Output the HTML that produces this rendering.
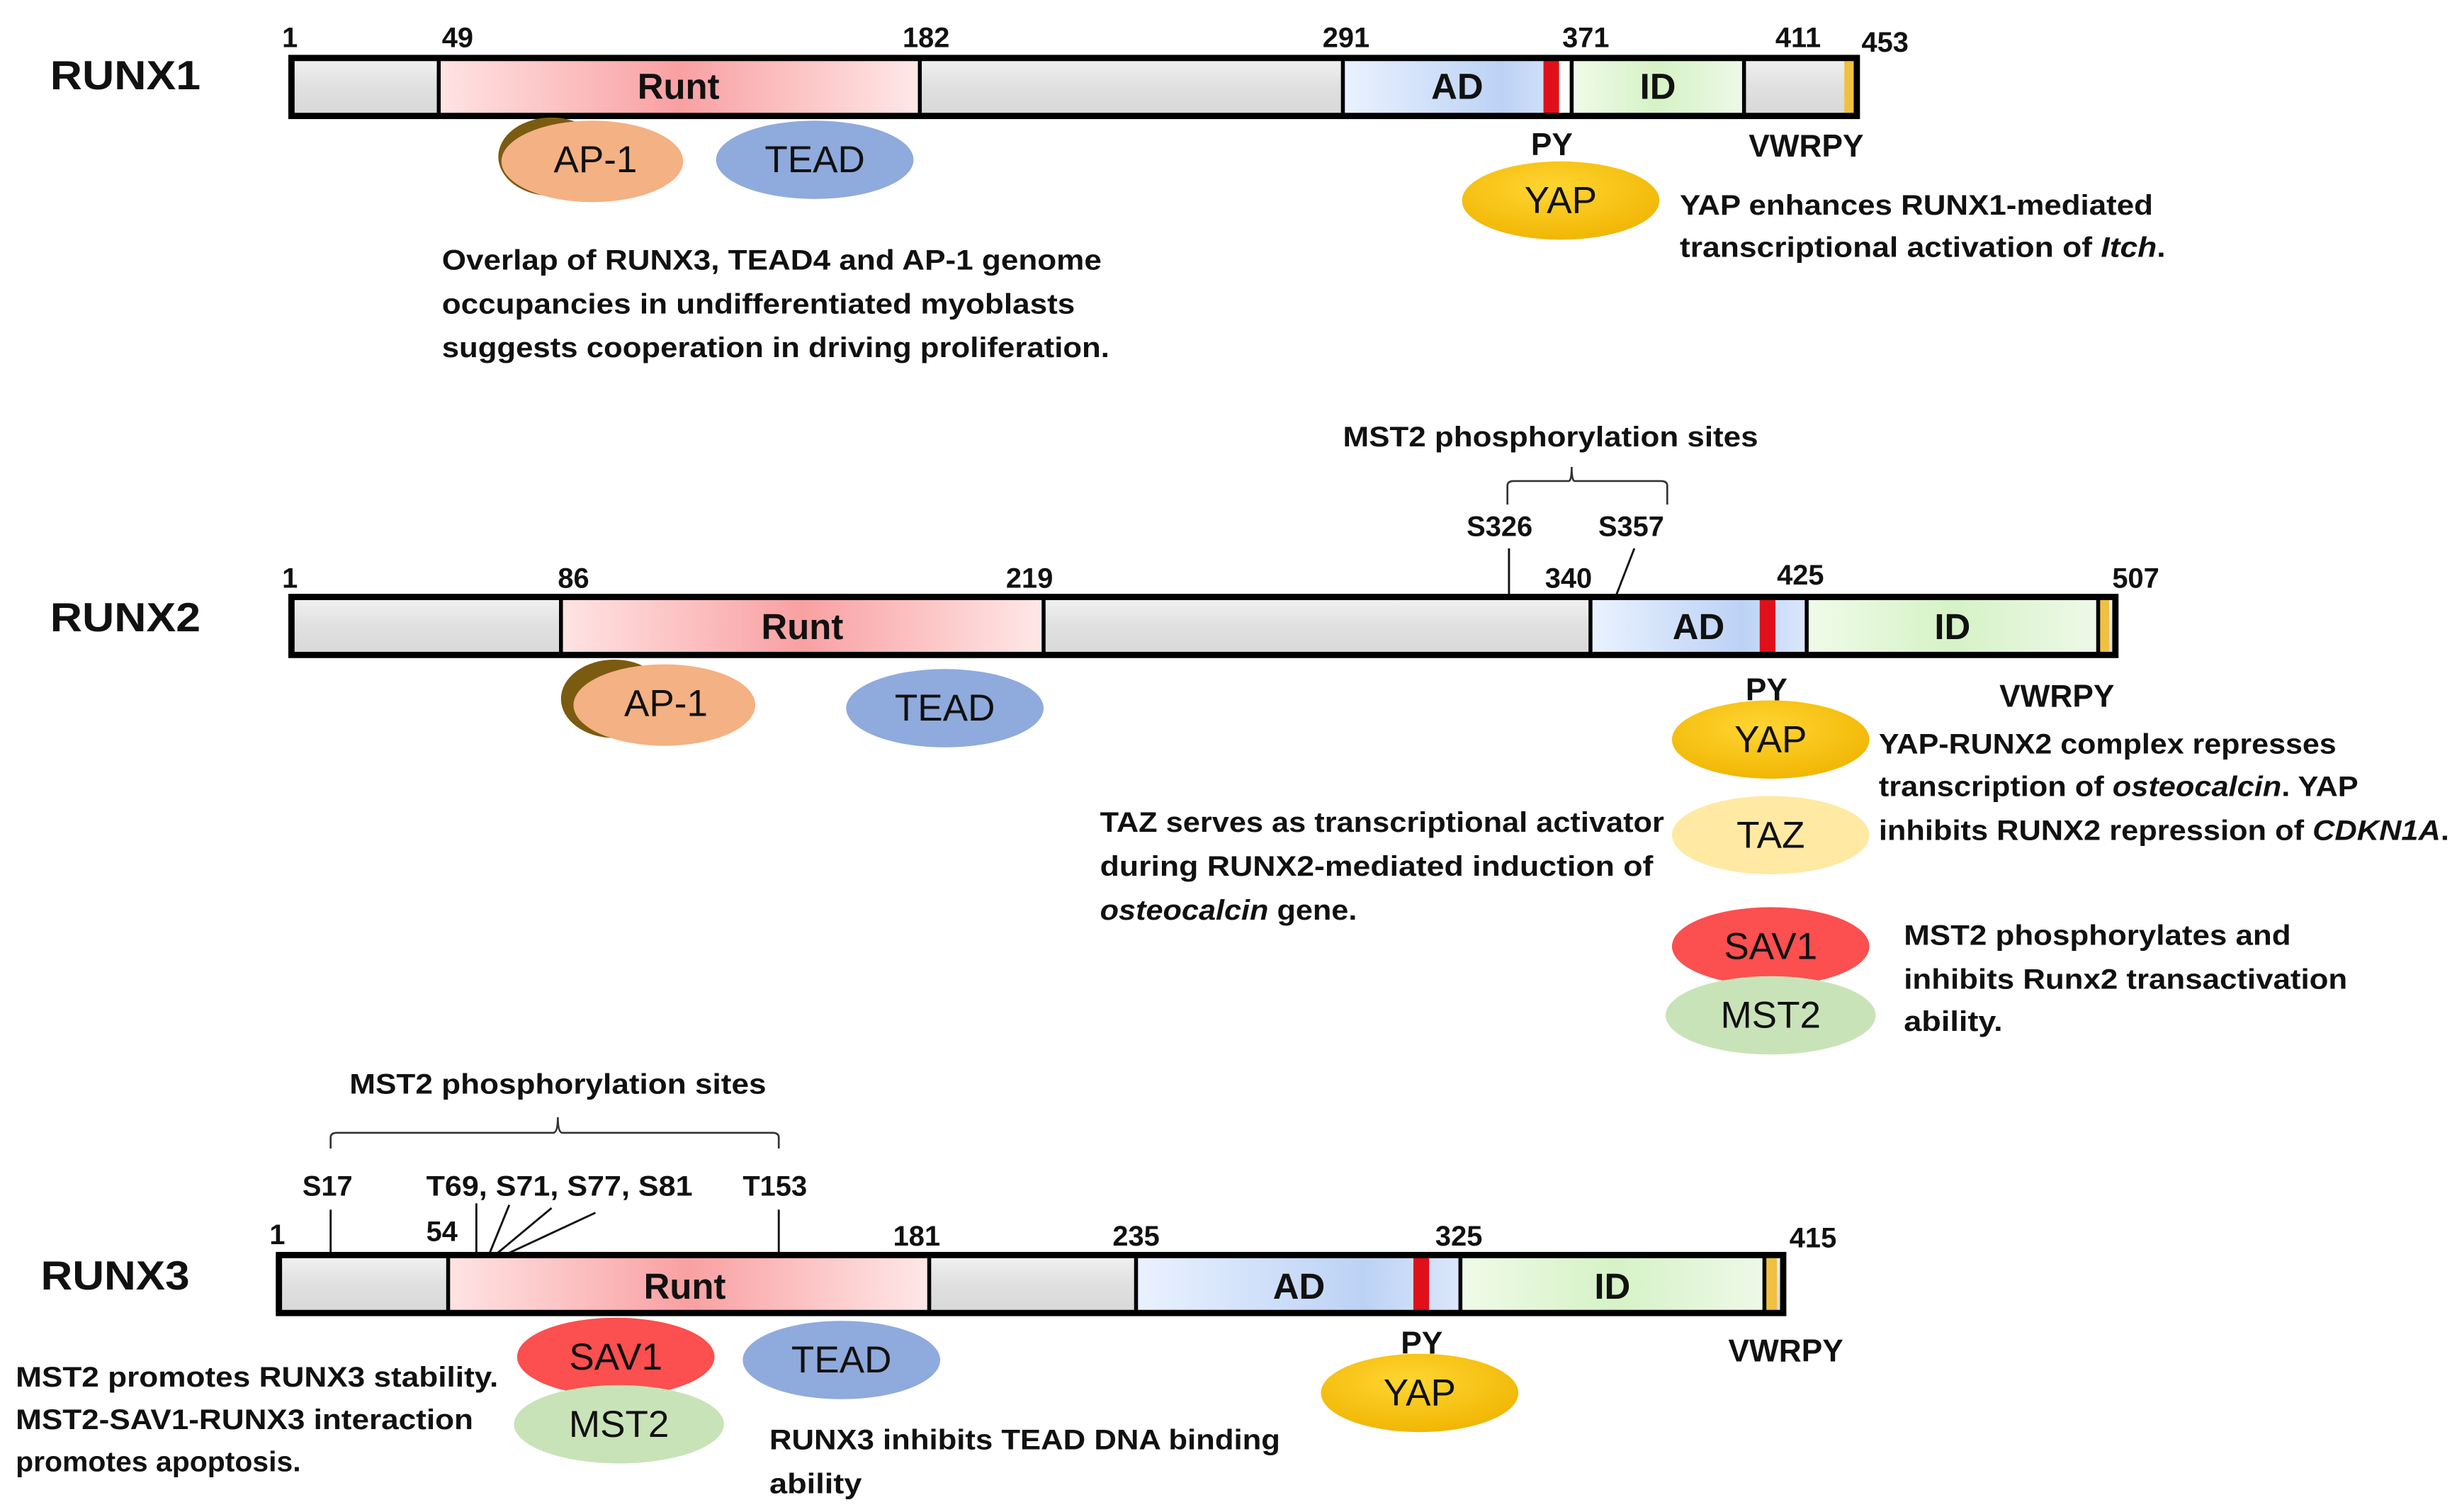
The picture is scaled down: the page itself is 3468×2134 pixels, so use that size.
<!DOCTYPE html>
<html><head><meta charset="utf-8"><style>
html,body{margin:0;padding:0;background:#fff;}
svg{display:block;}
text{font-family:"Liberation Sans",sans-serif;}
.b{font-weight:bold;fill:#111;}
.t{font-weight:bold;font-size:18px;fill:#111;}
.n{font-weight:bold;font-size:18px;fill:#111;}
.lbl{font-weight:bold;font-size:26px;fill:#111;}
.dom{font-weight:bold;font-size:23px;fill:#111;text-anchor:middle;}
.ov{font-size:24px;fill:#111;text-anchor:middle;}
</style></head><body>
<svg width="3468" height="2134" viewBox="0 0 1568 965" preserveAspectRatio="none" xmlns="http://www.w3.org/2000/svg">
<defs>
<linearGradient id="gray" x1="0" y1="0" x2="0" y2="1"><stop offset="0" stop-color="#f2f2f2"/><stop offset="0.5" stop-color="#e0e0e0"/><stop offset="1" stop-color="#d8d8d8"/></linearGradient>
<linearGradient id="runt" x1="0" y1="0" x2="1" y2="0"><stop offset="0" stop-color="#ffe4e4"/><stop offset="0.5" stop-color="#f9a0a2"/><stop offset="1" stop-color="#ffe8e8"/></linearGradient>
<linearGradient id="ad" x1="0" y1="0" x2="1" y2="0"><stop offset="0" stop-color="#eaf2ff"/><stop offset="0.7" stop-color="#bcd2f5"/><stop offset="1" stop-color="#dbe7fb"/></linearGradient>
<linearGradient id="id" x1="0" y1="0" x2="1" y2="0"><stop offset="0" stop-color="#f0fbe9"/><stop offset="0.5" stop-color="#d6f2c6"/><stop offset="1" stop-color="#eef9e8"/></linearGradient>
<radialGradient id="yap" cx="0.45" cy="0.35" r="0.7"><stop offset="0" stop-color="#ffd633"/><stop offset="1" stop-color="#f0b400"/></radialGradient>
</defs>

<!-- RUNX1 -->
<text class="lbl" x="32" y="57" textLength="96" lengthAdjust="spacingAndGlyphs">RUNX1</text>
<g class="n">
<text x="180" y="30">1</text><text x="282" y="30">49</text><text x="576" y="30">182</text><text x="844" y="30">291</text><text x="997" y="30">371</text><text x="1133" y="30">411</text><text x="1188" y="33">453</text>
</g>
<rect x="186" y="37" width="999" height="37" fill="url(#gray)"/>
<rect x="280" y="37" width="307" height="37" fill="url(#runt)"/>
<rect x="857" y="37" width="146" height="37" fill="url(#ad)"/>
<rect x="985" y="37" width="10" height="37" fill="#e0101a"/>
<rect x="995" y="37" width="8" height="37" fill="#fff"/>
<rect x="1003" y="37" width="110" height="37" fill="url(#id)"/>
<rect x="1177" y="39" width="6" height="33" fill="#f0c040"/>
<rect x="186" y="37" width="999" height="37" fill="none" stroke="#000" stroke-width="4"/>
<g stroke="#000" stroke-width="2.5"><line x1="280" y1="37" x2="280" y2="74"/><line x1="587" y1="37" x2="587" y2="74"/><line x1="857" y1="37" x2="857" y2="74"/><line x1="1003" y1="37" x2="1003" y2="74"/><line x1="1113" y1="37" x2="1113" y2="74"/></g>
<text class="dom" x="433" y="63">Runt</text><text class="dom" x="930" y="63">AD</text><text class="dom" x="1058" y="63">ID</text>
<ellipse cx="352" cy="100" rx="34" ry="25" fill="#7b5b10"/>
<ellipse cx="378" cy="103" rx="58" ry="26" fill="#f4b183"/>
<text class="ov" x="380" y="110">AP-1</text>
<ellipse cx="520" cy="102" rx="63" ry="25" fill="#8faadc"/>
<text class="ov" x="520" y="110">TEAD</text>
<text class="b" font-size="20" x="977" y="99">PY</text>
<text class="b" font-size="20" x="1116" y="100">VWRPY</text>
<ellipse cx="996" cy="128" rx="63" ry="25" fill="url(#yap)"/>
<text class="ov" x="996" y="136">YAP</text>
<text class="t" x="1072" y="137" textLength="302" lengthAdjust="spacingAndGlyphs">YAP enhances RUNX1-mediated</text>
<text class="t" x="1072" y="164" textLength="310" lengthAdjust="spacingAndGlyphs">transcriptional activation of <tspan font-style="italic">Itch</tspan>.</text>
<text class="t" x="282" y="172" textLength="421" lengthAdjust="spacingAndGlyphs">Overlap of RUNX3, TEAD4 and AP-1 genome</text>
<text class="t" x="282" y="200" textLength="404" lengthAdjust="spacingAndGlyphs">occupancies in undifferentiated myoblasts</text>
<text class="t" x="282" y="228" textLength="426" lengthAdjust="spacingAndGlyphs">suggests cooperation in driving proliferation.</text>

<!-- RUNX2 -->
<text class="t" x="857" y="285" textLength="265" lengthAdjust="spacingAndGlyphs">MST2 phosphorylation sites</text>
<path d="M962 322 V310 Q962 307 966 307 H1001 Q1003 307 1003 298 Q1003 307 1005 307 H1060 Q1064 307 1064 310 V322" fill="none" stroke="#333" stroke-width="1.2"/>
<text class="n" x="936" y="342">S326</text><text class="n" x="1020" y="342">S357</text>
<g stroke="#111" stroke-width="1.3"><line x1="963" y1="350" x2="963" y2="381"/><line x1="1043" y1="350" x2="1031" y2="381"/></g>
<text class="lbl" x="32" y="403" textLength="96" lengthAdjust="spacingAndGlyphs">RUNX2</text>
<g class="n">
<text x="180" y="375">1</text><text x="356" y="375">86</text><text x="642" y="375">219</text><text x="986" y="375">340</text><text x="1134" y="373">425</text><text x="1348" y="375">507</text>
</g>
<rect x="186" y="381" width="1164" height="37" fill="url(#gray)"/>
<rect x="358" y="381" width="308" height="37" fill="url(#runt)"/>
<rect x="1015" y="381" width="138" height="37" fill="url(#ad)"/>
<rect x="1123" y="381" width="10" height="37" fill="#e0101a"/>
<rect x="1153" y="381" width="186" height="37" fill="url(#id)"/>
<rect x="1340" y="383" width="6" height="33" fill="#f0c040"/>
<rect x="186" y="381" width="1164" height="37" fill="none" stroke="#000" stroke-width="4"/>
<g stroke="#000" stroke-width="2.5"><line x1="358" y1="381" x2="358" y2="418"/><line x1="666" y1="381" x2="666" y2="418"/><line x1="1015" y1="381" x2="1015" y2="418"/><line x1="1153" y1="381" x2="1153" y2="418"/><line x1="1339" y1="381" x2="1339" y2="418"/></g>
<text class="dom" x="512" y="408">Runt</text><text class="dom" x="1084" y="408">AD</text><text class="dom" x="1246" y="408">ID</text>
<ellipse cx="392" cy="446" rx="34" ry="25" fill="#7b5b10"/>
<ellipse cx="424" cy="450" rx="58" ry="26" fill="#f4b183"/>
<text class="ov" x="425" y="457">AP-1</text>
<ellipse cx="603" cy="452" rx="63" ry="25" fill="#8faadc"/>
<text class="ov" x="603" y="460">TEAD</text>
<text class="b" font-size="20" x="1114" y="447">PY</text>
<text class="b" font-size="20" x="1276" y="451">VWRPY</text>
<ellipse cx="1130" cy="472" rx="63" ry="25" fill="url(#yap)"/>
<text class="ov" x="1130" y="480">YAP</text>
<ellipse cx="1130" cy="533" rx="63" ry="25" fill="#ffe9a3"/>
<text class="ov" x="1130" y="541">TAZ</text>
<ellipse cx="1130" cy="604" rx="63" ry="25" fill="#fc4f4f"/>
<text class="ov" x="1130" y="612">SAV1</text>
<ellipse cx="1130" cy="648" rx="67" ry="25" fill="#c9e3b8"/>
<text class="ov" x="1130" y="656">MST2</text>
<text class="t" x="1199" y="481" textLength="292" lengthAdjust="spacingAndGlyphs">YAP-RUNX2 complex represses</text>
<text class="t" x="1199" y="508" textLength="306" lengthAdjust="spacingAndGlyphs">transcription of <tspan font-style="italic">osteocalcin</tspan>.  YAP</text>
<text class="t" x="1199" y="536" textLength="364" lengthAdjust="spacingAndGlyphs">inhibits RUNX2 repression of <tspan font-style="italic">CDKN1A</tspan>.</text>
<text class="t" x="702" y="531" textLength="360" lengthAdjust="spacingAndGlyphs">TAZ serves as transcriptional activator</text>
<text class="t" x="702" y="559" textLength="353" lengthAdjust="spacingAndGlyphs">during RUNX2-mediated induction of</text>
<text class="t" x="702" y="587" textLength="164" lengthAdjust="spacingAndGlyphs"><tspan font-style="italic">osteocalcin</tspan> gene.</text>
<text class="t" x="1215" y="603" textLength="247" lengthAdjust="spacingAndGlyphs">MST2 phosphorylates and</text>
<text class="t" x="1215" y="631" textLength="283" lengthAdjust="spacingAndGlyphs">inhibits Runx2 transactivation</text>
<text class="t" x="1215" y="658" textLength="63" lengthAdjust="spacingAndGlyphs">ability.</text>

<!-- RUNX3 -->
<text class="t" x="223" y="698" textLength="266" lengthAdjust="spacingAndGlyphs">MST2 phosphorylation sites</text>
<path d="M211 733 V726 Q211 723 215 723 H353 Q356 723 356 713 Q356 723 359 723 H493 Q497 723 497 726 V733" fill="none" stroke="#333" stroke-width="1.2"/>
<text class="n" x="193" y="763">S17</text><text class="n" x="272" y="763" textLength="170" lengthAdjust="spacingAndGlyphs">T69, S71, S77, S81</text><text class="n" x="474" y="763">T153</text>
<g stroke="#111" stroke-width="1.3"><line x1="211" y1="772" x2="211" y2="801"/><line x1="497" y1="772" x2="497" y2="801"/><line x1="304" y1="768" x2="304" y2="801"/><line x1="325" y1="769" x2="312" y2="801"/><line x1="352" y1="771" x2="316" y2="801"/><line x1="380" y1="774" x2="322" y2="801"/></g>
<text class="lbl" x="26" y="823" textLength="95" lengthAdjust="spacingAndGlyphs">RUNX3</text>
<g class="n">
<text x="172" y="794">1</text><text x="272" y="792">54</text><text x="570" y="795">181</text><text x="710" y="795">235</text><text x="916" y="795">325</text><text x="1142" y="796">415</text>
</g>
<rect x="178" y="801" width="960" height="37" fill="url(#gray)"/>
<rect x="286" y="801" width="307" height="37" fill="url(#runt)"/>
<rect x="725" y="801" width="207" height="37" fill="url(#ad)"/>
<rect x="902" y="801" width="10" height="37" fill="#e0101a"/>
<rect x="932" y="801" width="194" height="37" fill="url(#id)"/>
<rect x="1127" y="803" width="7" height="33" fill="#f0c040"/>
<rect x="178" y="801" width="960" height="37" fill="none" stroke="#000" stroke-width="4"/>
<g stroke="#000" stroke-width="2.5"><line x1="286" y1="801" x2="286" y2="838"/><line x1="593" y1="801" x2="593" y2="838"/><line x1="725" y1="801" x2="725" y2="838"/><line x1="932" y1="801" x2="932" y2="838"/><line x1="1126" y1="801" x2="1126" y2="838"/></g>
<text class="dom" x="437" y="829">Runt</text><text class="dom" x="829" y="829">AD</text><text class="dom" x="1029" y="829">ID</text>
<ellipse cx="393" cy="866" rx="63" ry="25" fill="#fc4f4f"/>
<text class="ov" x="393" y="874">SAV1</text>
<ellipse cx="395" cy="909" rx="67" ry="25" fill="#c9e3b8"/>
<text class="ov" x="395" y="917">MST2</text>
<ellipse cx="537" cy="868" rx="63" ry="25" fill="#8faadc"/>
<text class="ov" x="537" y="876">TEAD</text>
<text class="b" font-size="20" x="894" y="864">PY</text>
<text class="b" font-size="20" x="1103" y="869">VWRPY</text>
<ellipse cx="906" cy="889" rx="63" ry="25" fill="url(#yap)"/>
<text class="ov" x="906" y="897">YAP</text>
<text class="t" x="10" y="885" textLength="308" lengthAdjust="spacingAndGlyphs">MST2 promotes RUNX3 stability.</text>
<text class="t" x="10" y="912" textLength="292" lengthAdjust="spacingAndGlyphs">MST2-SAV1-RUNX3 interaction</text>
<text class="t" x="10" y="939" textLength="182" lengthAdjust="spacingAndGlyphs">promotes apoptosis.</text>
<text class="t" x="491" y="925" textLength="326" lengthAdjust="spacingAndGlyphs">RUNX3 inhibits TEAD DNA binding</text>
<text class="t" x="491" y="953" textLength="59" lengthAdjust="spacingAndGlyphs">ability</text>
</svg>
</body></html>
